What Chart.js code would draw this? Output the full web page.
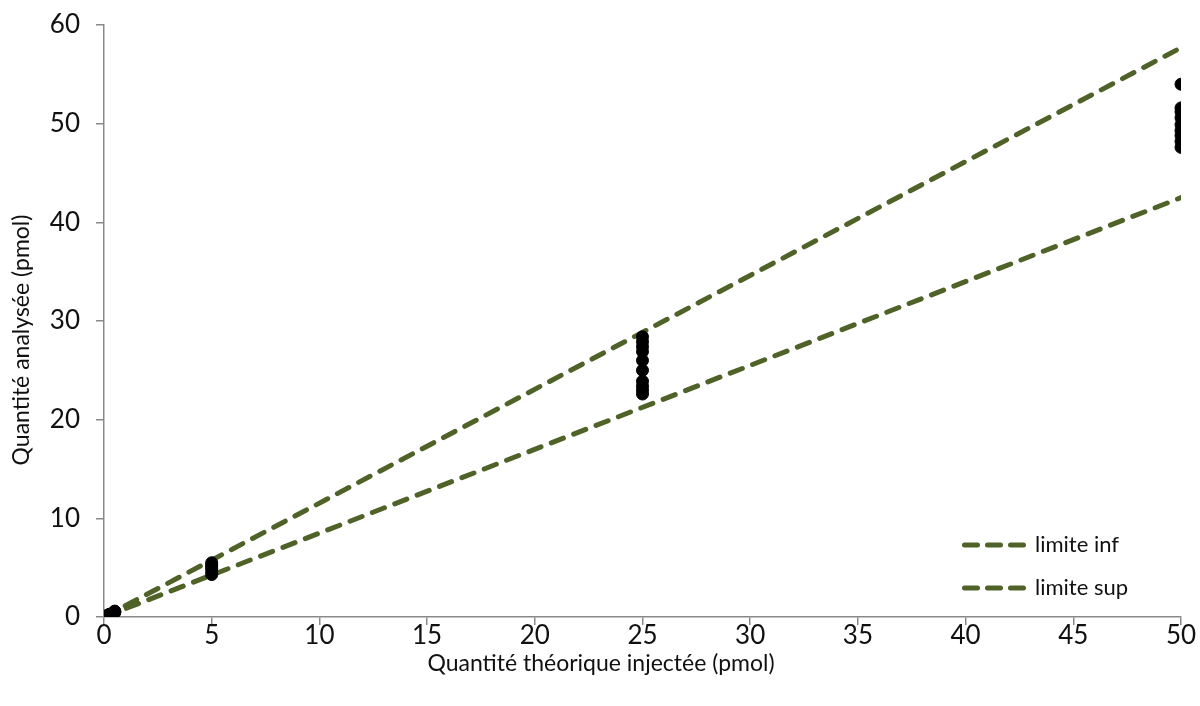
<!DOCTYPE html>
<html>
<head>
<meta charset="utf-8">
<script src="https://cdn.jsdelivr.net/npm/chart.js@4.4.1/dist/chart.umd.min.js"></script>
<style>
html,body{margin:0;padding:0;background:#fff;}
#wrap{width:1200px;height:706px;position:relative;}
</style>
</head>
<body>
<div id="wrap"><canvas id="c" width="1200" height="706"></canvas></div>
<script>
// Measured points: injected (x) vs analysed (y)
const injected = [0.1,0.1,0.1, 0.25,0.25,0.25, 0.5,0.5,0.5,0.5,
  5,5,5,5,5,5,
  25,25,25,25,25,25,25,25,25,25,
  50,50,50,50,50,50,50,50,50];
const analysed = [0.09,0.1,0.11, 0.22,0.26,0.28, 0.45,0.5,0.55,0.6,
  4.3,4.6,4.9,5.1,5.3,5.5,
  22.6,23.0,23.4,23.9,25.0,26.0,26.9,27.4,27.9,28.4,
  47.6,48.2,48.8,49.3,49.9,50.6,51.2,51.6,54.0];

// Limit lines
const limitX = [0, 50];
const limiteInf = [0, 42.5];
const limiteSup = [0, 57.7];

const xTicks = [0,5,10,15,20,25,30,35,40,45,50];
const yTicks = [0,10,20,30,40,50,60];

const xTitle = 'Quantité théorique injectée (pmol)';
const yTitle = 'Quantité analysée (pmol)';

const olive = '#4F6228';
const axisGray = '#898989';
const FONT = 'Lato, "Open Sans", sans-serif';

const decorPlugin = {
  id: 'decor',
  afterDatasetsDraw(chart) {
    const ctx = chart.ctx;
    const items = chart.data.datasets.filter(d => d.showInLegend);
    const x0 = 962, x1 = 1026, ys = [545, 588];
    ctx.save();
    items.forEach((d, i) => {
      const y = ys[i];
      ctx.strokeStyle = d.borderColor;
      ctx.lineWidth = d.borderWidth;
      ctx.lineCap = 'round';
      ctx.setLineDash([13, 10]);
      ctx.beginPath();
      ctx.moveTo(x0 + 2.5, y);
      ctx.lineTo(x1 - 2.5, y);
      ctx.stroke();
      ctx.setLineDash([]);
      ctx.fillStyle = '#111';
      ctx.font = '22px ' + FONT;
      ctx.textBaseline = 'middle';
      ctx.textAlign = 'left';
      ctx.fillText(d.label, 1035, y);
    });
    // axis titles
    ctx.fillStyle = '#111';
    ctx.font = '23px ' + FONT;
    ctx.textAlign = 'center';
    ctx.textBaseline = 'middle';
    ctx.fillText(xTitle, 601, 664);
    ctx.translate(22, 340);
    ctx.rotate(-Math.PI / 2);
    ctx.fillText(yTitle, 0, 0);
    ctx.restore();
  }
};

const toPts = (xs, ys) => xs.map((x, i) => ({x: x, y: ys[i]}));

new Chart(document.getElementById('c'), {
  type: 'scatter',
  data: {
    datasets: [
      {
        label: 'limite inf', type: 'line', showInLegend: true,
        data: toPts(limitX, limiteInf),
        borderColor: olive, backgroundColor: olive, borderWidth: 5,
        borderDash: [13, 11], borderCapStyle: 'round',
        pointRadius: 0, fill: false, order: 2
      },
      {
        label: 'limite sup', type: 'line', showInLegend: true,
        data: toPts(limitX, limiteSup),
        borderColor: olive, backgroundColor: olive, borderWidth: 5,
        borderDash: [13, 11], borderCapStyle: 'round',
        pointRadius: 0, fill: false, order: 2
      },
      {
        label: 'mesures', showInLegend: false,
        data: toPts(injected, analysed),
        backgroundColor: '#000', borderColor: '#000',
        pointRadius: 6, pointHoverRadius: 6, order: 1
      }
    ]
  },
  options: {
    responsive: false, animation: false,
    layout: {padding: {left: 0, right: 19, top: 25, bottom: 0}},
    plugins: {legend: {display: false}, tooltip: {enabled: false}},
    scales: {
      x: {
        type: 'linear', min: 0, max: 50,
        afterFit(s) { s.height = 89; s.paddingLeft = 0; s.paddingRight = 0; },
        afterBuildTicks(s) { s.ticks = xTicks.map(v => ({value: v})); },
        border: {color: axisGray, width: 1.5},
        grid: {display: true, drawOnChartArea: false, tickLength: 8, color: axisGray, lineWidth: 1.5},
        ticks: {padding: -5, color: '#111', font: {family: FONT, size: 26}, maxRotation: 0},
        title: {display: false}
      },
      y: {
        type: 'linear', min: 0, max: 60,
        afterFit(s) { s.width = 104; s.paddingTop = 0; s.paddingBottom = 0; },
        afterBuildTicks(s) { s.ticks = yTicks.map(v => ({value: v})); },
        border: {color: axisGray, width: 1.5},
        grid: {display: true, drawOnChartArea: false, tickLength: 8, color: axisGray, lineWidth: 1.5},
        ticks: {padding: 16, color: '#111', font: {family: FONT, size: 26}},
        title: {display: false}
      }
    }
  },
  plugins: [decorPlugin]
});
</script>
</body>
</html>
